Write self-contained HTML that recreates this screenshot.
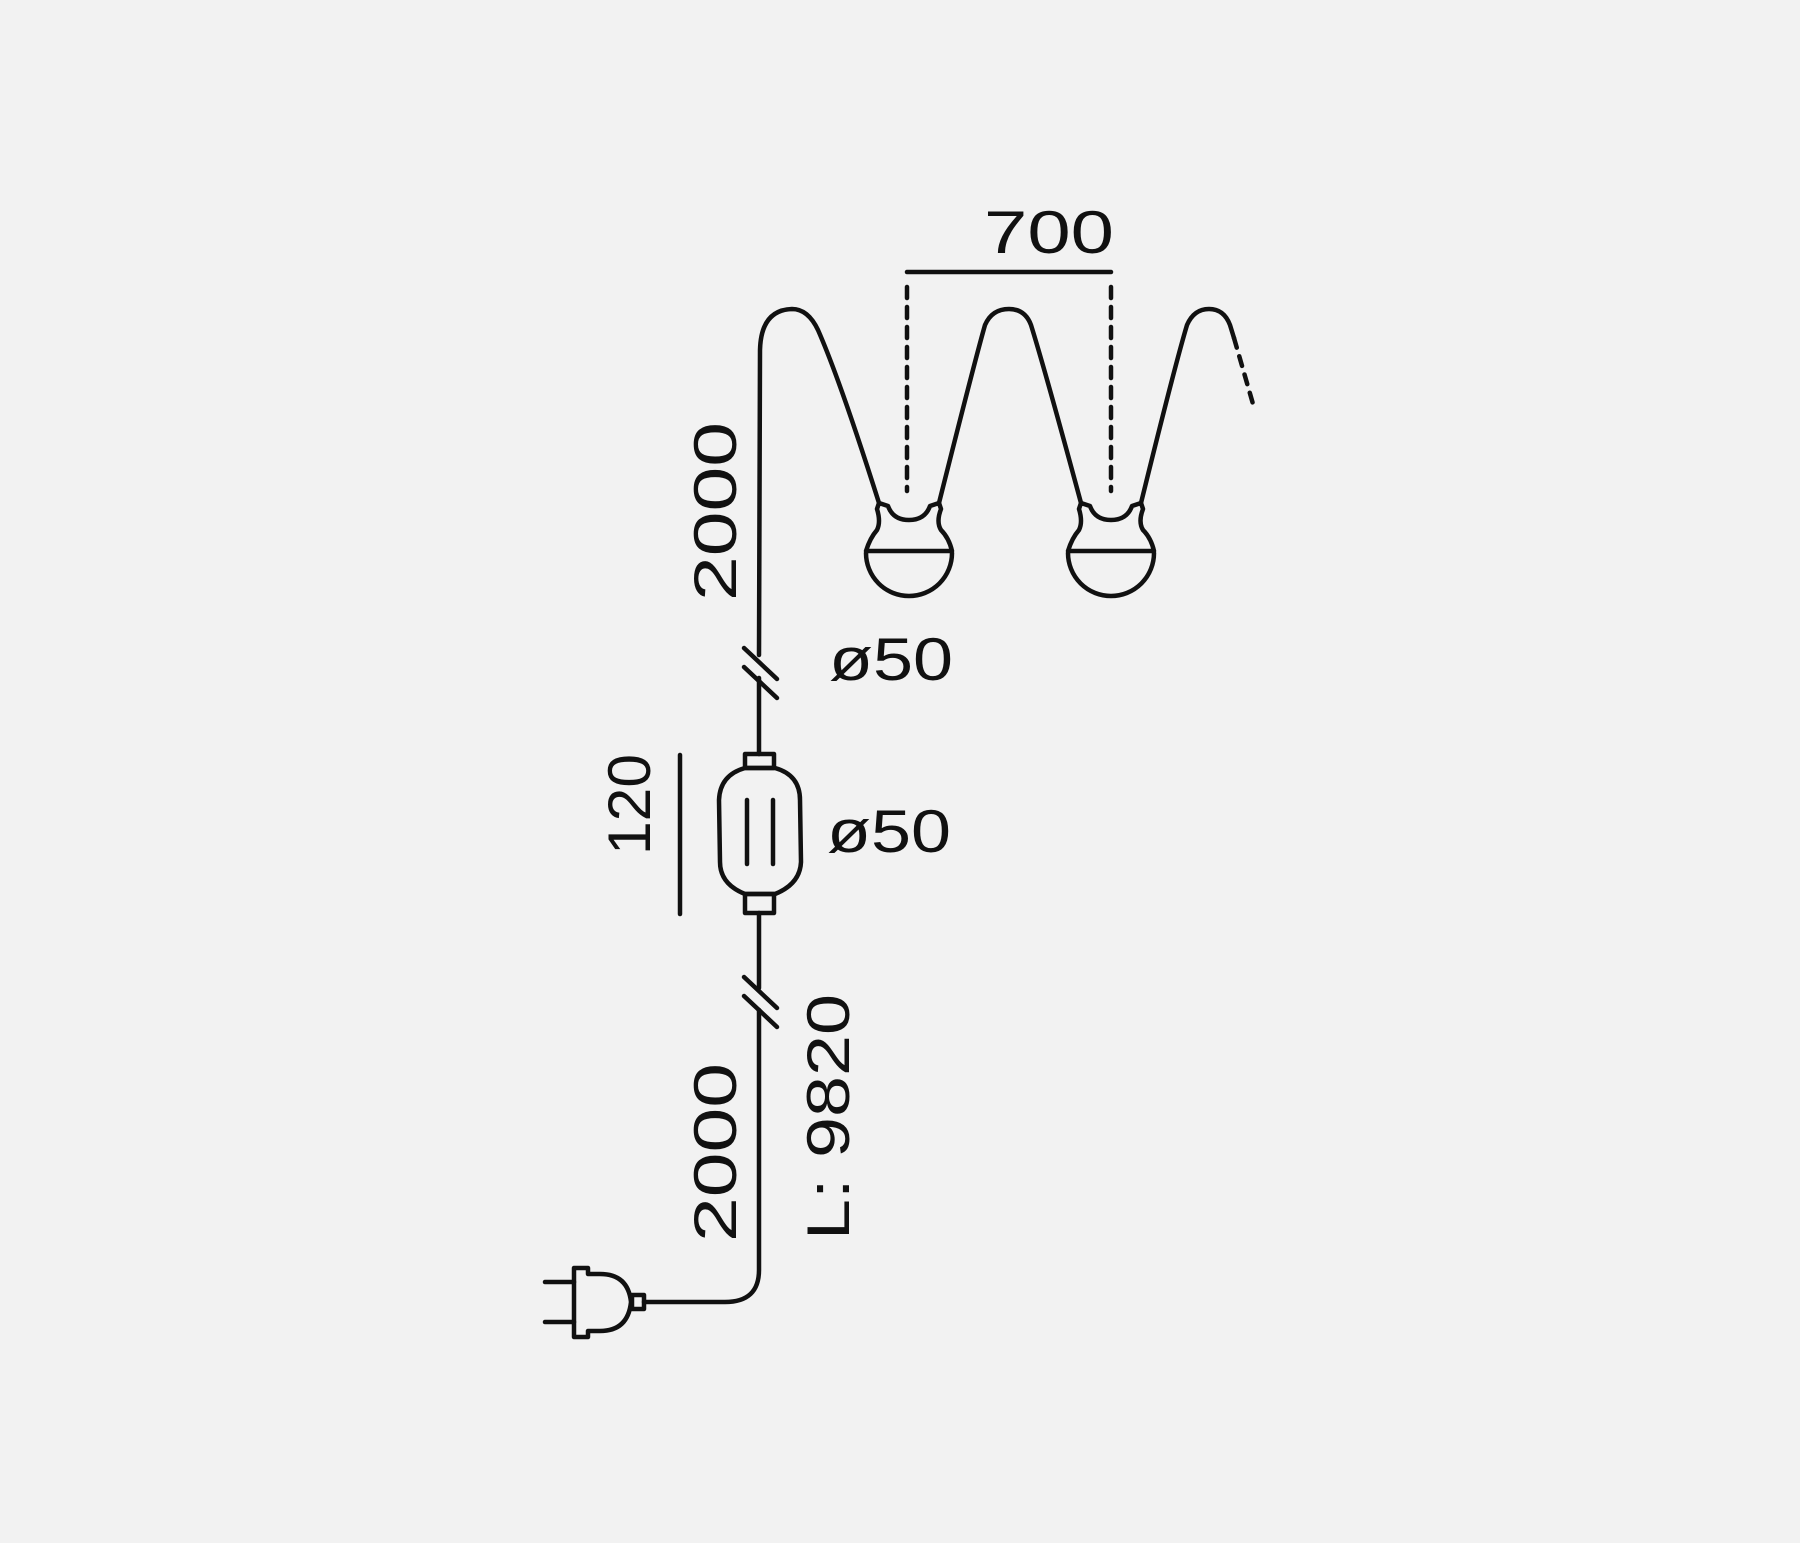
<!DOCTYPE html>
<html><head><meta charset="utf-8"><style>html,body{margin:0;padding:0;background:#f2f2f2}svg{display:block}</style></head>
<body>
<svg width="1800" height="1543" viewBox="0 0 1800 1543" xmlns="http://www.w3.org/2000/svg">
<rect width="1800" height="1543" fill="#f2f2f2"/>
<g fill="none" stroke="#111" stroke-width="4.5" stroke-linecap="round" stroke-linejoin="round">
<path d="M759,655 L760,350 Q761,310 792,309 Q808,309 818,330 Q840,380 879,503"/>
<path d="M939,503 Q975,360 985,325 Q992,309 1009,309 Q1025,309 1031,325 Q1045,370 1081,503"/>
<path d="M1141,503 Q1175,365 1187,325 Q1194,309 1209,309 Q1224,309 1230,325 L1234,338"/>
<path d="M1234,338 L1253,404" stroke-dasharray="10,9"/>
<line x1="907" y1="272" x2="1111" y2="272"/>
<line x1="907" y1="287" x2="907" y2="491" stroke-dasharray="11,9"/>
<line x1="1111" y1="287" x2="1111" y2="491" stroke-dasharray="11,9"/>
<g>
<path d="M879,503 L888,506 Q893,520 909,520 Q925,520 930,506 L939,503 L941,509 Q936,522 941,530 Q949,538 952,551 L866,551 Q870,538 877,530 Q881,522 877,509 Z"/>
<path d="M866,553 A43,43 0 0 0 952,553"/>
</g>
<g transform="translate(202,0)">
<path d="M879,503 L888,506 Q893,520 909,520 Q925,520 930,506 L939,503 L941,509 Q936,522 941,530 Q949,538 952,551 L866,551 Q870,538 877,530 Q881,522 877,509 Z"/>
<path d="M866,553 A43,43 0 0 0 952,553"/>
</g>
<line x1="744" y1="648" x2="777" y2="679"/>
<line x1="744" y1="667" x2="777" y2="698"/>
<line x1="759" y1="678" x2="759" y2="754"/>
<rect x="745" y="754" width="29" height="14"/>
<path d="M745,768 L775,768 Q800,775 800,800 L801,862 Q800,884 775,894 L745,894 Q720,884 720,862 L719,800 Q720,775 745,768 Z"/>
<rect x="745" y="894" width="29" height="19"/>
<line x1="747" y1="800" x2="747" y2="864"/>
<line x1="773" y1="800" x2="773" y2="864"/>
<line x1="680" y1="755" x2="680" y2="914"/>
<line x1="759" y1="913" x2="759" y2="988"/>
<line x1="744" y1="977" x2="777" y2="1008"/>
<line x1="744" y1="996" x2="777" y2="1027"/>
<path d="M759,1010 L759,1270 Q759,1302 725,1302 L644,1302"/>
<rect x="632" y="1295" width="12" height="14"/>
<path d="M574,1268 L588,1268 L588,1274 L600,1274 Q628,1274 631,1302 Q628,1331 600,1331 L588,1331 L588,1337 L574,1337 Z"/>
<line x1="545" y1="1282" x2="574" y2="1282"/>
<line x1="545" y1="1322" x2="574" y2="1322"/>
</g>
<g font-family="Liberation Sans, sans-serif" font-size="60" fill="#111">
<text x="984" y="253" textLength="130" lengthAdjust="spacingAndGlyphs">700</text>
<text x="829" y="680" textLength="124" lengthAdjust="spacingAndGlyphs">ø50</text>
<text x="827" y="852" textLength="124" lengthAdjust="spacingAndGlyphs">ø50</text>
<text transform="translate(736,601) rotate(-90)" textLength="179" lengthAdjust="spacingAndGlyphs">2000</text>
<text transform="translate(650,855) rotate(-90)" textLength="101" lengthAdjust="spacingAndGlyphs">120</text>
<text transform="translate(736,1242) rotate(-90)" textLength="179" lengthAdjust="spacingAndGlyphs">2000</text>
<text transform="translate(849,1240) rotate(-90)" textLength="246" lengthAdjust="spacingAndGlyphs">L: 9820</text>
</g>
</svg>
</body></html>
